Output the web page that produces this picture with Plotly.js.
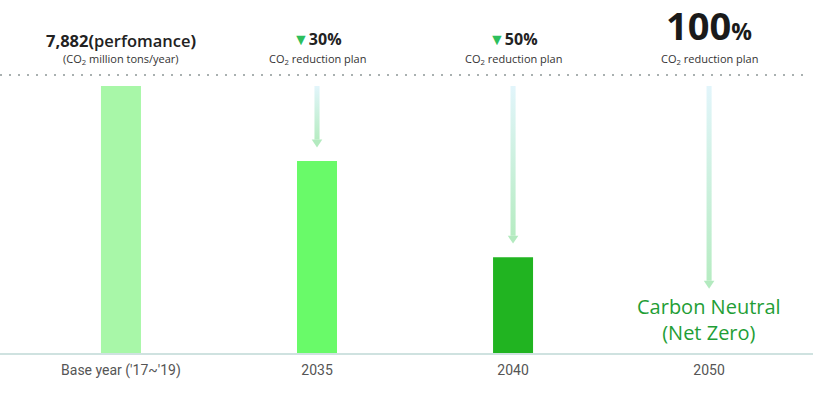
<!DOCTYPE html>
<html>
<head>
<meta charset="utf-8">
<script src="https://cdn.plot.ly/plotly-3.0.1.min.js"></script>
<style>html,body{margin:0;padding:0;background:#fff;}#chart{width:838px;height:395px;}</style>
</head>
<body>
<div id="chart"></div>
<script>
// ---- data ----
const categories = ["Base year ('17~'19)", "2035", "2040", "2050"];
const emissions = [7882, 5670, 2830, 0];          // CO2 million tons/year
const reductionPct = [null, 30, 50, 100];
const barColors = ["#a8f7a8", "#69fa69", "#21b421", "#21b421"];
const subLabels = ["(CO<sub>2</sub> million tons/year)", "CO<sub>2</sub> reduction plan", "CO<sub>2</sub> reduction plan", "CO<sub>2</sub> reduction plan"];
const neutralLabel = "Carbon Neutral<br>(Net Zero)";

// ---- styling constants ----
const YMAX = 8207;
const GAP = 400;             // space between arrow tip and target bar
const NEUTRAL_CLEAR = 1500;  // room left for "Carbon Neutral" label
const SHAFT_HALF = 0.013;
const HEAD_HALF = 0.027;
const HEAD_H = 230;

const xs = categories.map((c, i) => i);
const traces = [{
  type: 'bar', x: xs, y: emissions, width: 0.204,
  marker: {color: barColors, line: {width: 0}},
  hoverinfo: 'none', showlegend: false
}];

for (let i = 1; i < categories.length; i++) {
  const top = emissions[0];
  const tip = emissions[i] + GAP + (emissions[i] === 0 ? NEUTRAL_CLEAR : 0);
  const headTop = tip + HEAD_H;
  traces.push({
    type: 'scatter', mode: 'lines',
    x: [i - SHAFT_HALF, i + SHAFT_HALF, i + SHAFT_HALF, i - SHAFT_HALF, i - SHAFT_HALF],
    y: [top, top, headTop, headTop, top],
    fill: 'toself',
    fillgradient: {type: 'vertical', start: headTop, stop: top,
      colorscale: [[0, '#b6ecc2'], [1, '#e2f5fb']]},
    line: {width: 0}, hoverinfo: 'none', showlegend: false
  });
  traces.push({
    type: 'scatter', mode: 'lines',
    x: [i - HEAD_HALF, i + HEAD_HALF, i, i - HEAD_HALF],
    y: [headTop, headTop, tip, headTop],
    fill: 'toself', fillcolor: '#b3eabf',
    line: {width: 0}, hoverinfo: 'none', showlegend: false
  });
}

const FONT = '"Open Sans", sans-serif';
const annotations = [];
// headline row
annotations.push({
  x: 0, xref: 'x', y: 1, yref: 'paper', yshift: 35, yanchor: 'middle', showarrow: false, borderpad: 0,
  text: '<b>' + emissions[0].toLocaleString('en-US') + '(</b><span style="font-weight:600">perfomance</span><b>)</b>',
  font: {family: FONT, size: 16.5, color: '#222'}
});
for (let i = 1; i < categories.length; i++) {
  if (reductionPct[i] < 100) {
    annotations.push({
      x: i, xref: 'x', y: 1, yref: 'paper', yshift: 36, yanchor: 'middle', showarrow: false, borderpad: 0,
      text: '<span style="color:#2dbf5c">▼</span><b>' + reductionPct[i] + '%</b>',
      font: {family: FONT, size: 16, color: '#222'}
    });
  } else {
    annotations.push({
      x: i, xref: 'x', y: 1, yref: 'paper', yshift: 50, yanchor: 'middle', showarrow: false, borderpad: 0,
      text: '<b>' + reductionPct[i] + '</b><b style="font-size:23px">%</b>',
      font: {family: FONT, size: 38, color: '#1a1a1a'}
    });
  }
}
subLabels.forEach((t, i) => {
  annotations.push({
    x: i, xref: 'x', y: 1, yref: 'paper', yshift: 16, yanchor: 'middle', showarrow: false, borderpad: 0,
    text: t, font: {family: FONT, size: 11, color: '#333'}
  });
});
annotations.push({
  x: 3, xref: 'x', y: 0, yref: 'y', yanchor: 'bottom', yshift: 6, showarrow: false, borderpad: 0,
  text: neutralLabel, align: 'center',
  font: {family: FONT, size: 20, color: '#1f9e36'}
});

const layout = {
  width: 838, height: 395,
  margin: {l: 0, r: 25, t: 75, b: 42, pad: 0},
  paper_bgcolor: '#fff', plot_bgcolor: '#fff',
  xaxis: {
    range: [-0.617, 3.53], tickvals: xs, ticktext: categories,
    showgrid: false, zeroline: false, showline: true, linecolor: '#cfe2e0', linewidth: 1.5,
    ticks: 'outside', ticklen: 4, tickcolor: 'rgba(0,0,0,0)',
    tickfont: {family: 'Roboto, sans-serif', size: 14, color: '#555'}, fixedrange: true
  },
  yaxis: {range: [0, YMAX], visible: false, showgrid: false, zeroline: false, fixedrange: true},
  shapes: [{
    type: 'line', xref: 'paper', yref: 'paper', x0: 0, x1: 0.994, y0: 1, y1: 1,
    line: {color: '#a9b0b0', width: 2, dash: '2px,7px'}
  }],
  annotations: annotations,
  showlegend: false
};

Plotly.newPlot('chart', traces, layout, {displayModeBar: false, staticPlot: true});
</script>
</body>
</html>
